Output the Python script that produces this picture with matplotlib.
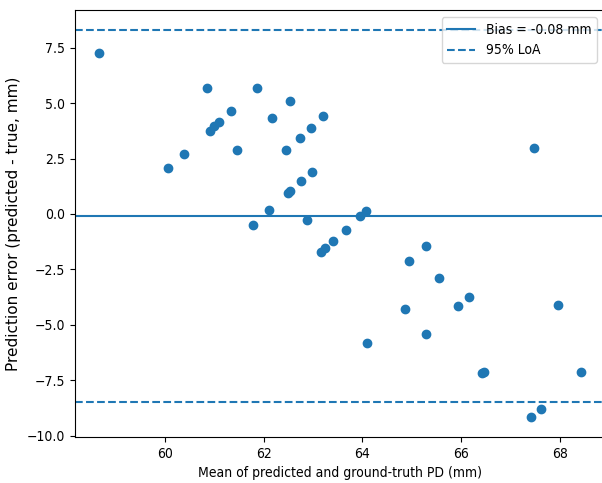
import numpy as np
import matplotlib
matplotlib.use('Agg')
import matplotlib.pyplot as plt

# mean of predicted and ground-truth PD (mm)
mean_pd = [58.67, 60.07, 60.38, 60.86, 60.91, 60.99, 61.09, 61.34, 61.47, 61.86,
           62.17, 62.45, 62.54, 62.73, 62.97, 63.21, 62.50, 62.54, 62.75, 62.98,
           62.11, 61.78, 62.87, 67.48, 63.96, 64.08, 63.17, 63.25, 63.41, 63.66,
           64.09, 64.87, 64.95, 65.29, 65.30, 65.56, 65.94, 66.16, 66.42, 66.46,
           67.42, 67.63, 67.96, 68.43]
# prediction error (predicted - true, mm)
diff_pd = [7.27, 2.09, 2.70, 5.66, 3.74, 3.96, 4.13, 4.64, 2.90, 5.69,
           4.31, 2.87, 5.08, 3.42, 3.89, 4.40, 0.96, 1.05, 1.47, 1.89,
           0.18, -0.48, -0.29, 2.96, -0.09, 0.12, -1.70, -1.55, -1.22, -0.72,
           -5.83, -4.29, -2.12, -1.44, -5.42, -2.90, -4.14, -3.72, -7.18, -7.12,
           -9.17, -8.77, -4.11, -7.13]

bias = -0.08
loa_upper = 8.29
loa_lower = -8.45

# the source picture is a bit squeezed sideways, so narrower text fits better
plt.rcParams['font.family'] = 'DejaVu Sans'
plt.rcParams['font.stretch'] = 'condensed'
plt.rcParams['font.size'] = 10

fig = plt.figure(figsize=(6.02, 4.83), dpi=100)
ax = fig.add_axes([0.1246, 0.0952, 0.879, 0.884])

ax.scatter(mean_pd, diff_pd, color='C0')
ax.axhline(bias, color='C0', linestyle='-', label=f'Bias = {bias:.2f} mm')
ax.axhline(loa_upper, color='C0', linestyle='--', label='95% LoA')
ax.axhline(loa_lower, color='C0', linestyle='--')

ax.set_xlim(58.18, 68.9)
ax.set_ylim(-10.05, 9.19)
ax.set_xticks(np.arange(60, 69, 2))
ax.set_yticks(np.arange(-10, 8, 2.5))

ax.set_xlabel('Mean of predicted and ground-truth PD (mm)')
ax.set_ylabel('Prediction error (predicted - true, mm)', fontsize=11,
              fontstretch='normal')
ax.legend(loc='upper right')

fig.savefig('out.png', dpi=100)
